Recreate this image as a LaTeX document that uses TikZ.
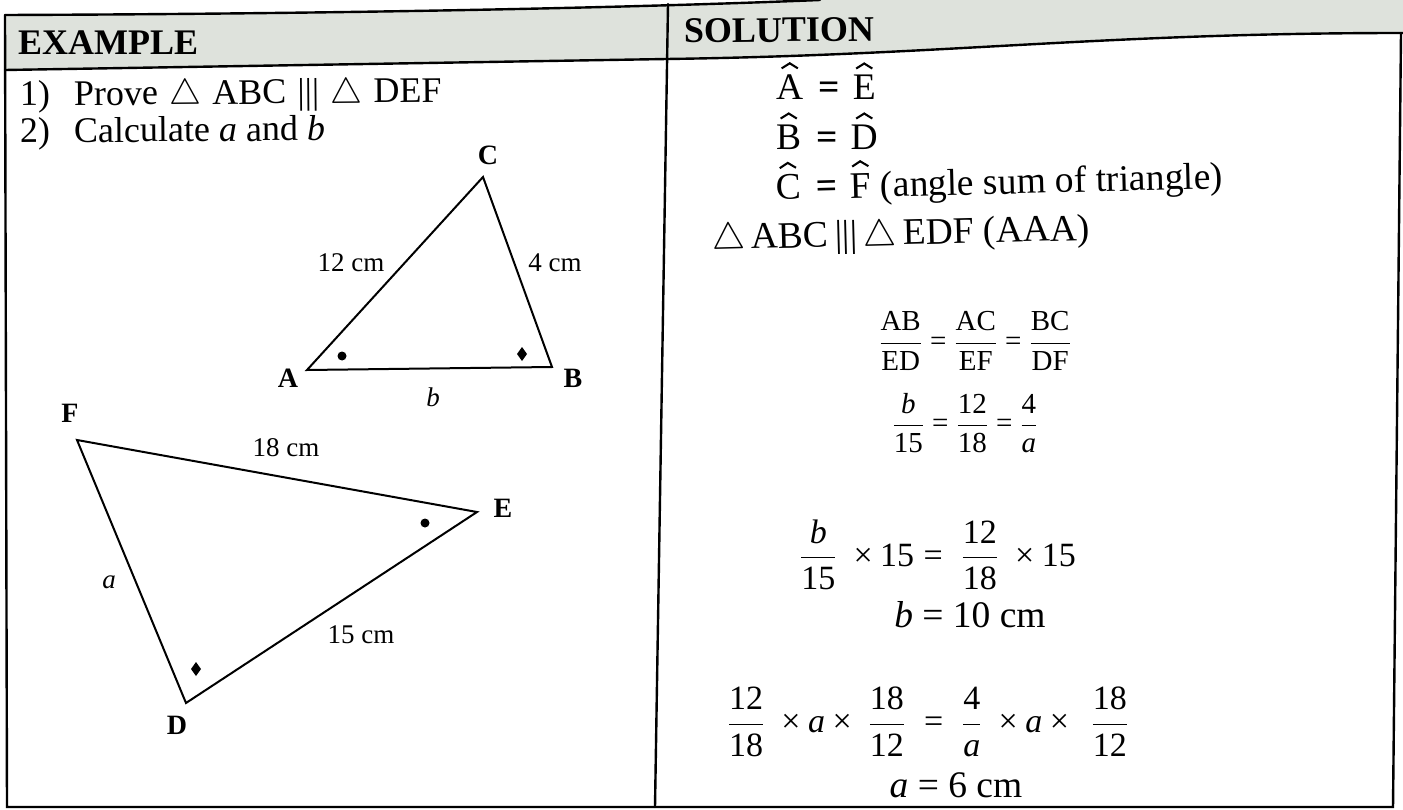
\RequirePackage{fix-cm}
\documentclass[tikz,border=0pt]{standalone}
\usepackage{amsmath}
\usepackage{graphicx}
\usepackage{fontspec}
\setmainfont{Liberation Serif}
\definecolor{hdrgray}{RGB}{222,226,220}
\newcommand{\tx}[1]{\text{#1}}
\newcommand{\ti}[1]{\text{\itshape #1}}
\newcommand{\eq}{\mathrel{\text{=}}}
\newcommand{\tm}{\mathbin{\text{×}}}
\newcommand{\hatmark}{\rotatebox{32}{\rule{0.27em}{0.055em}}\kern-0.055em\raisebox{0.143em}{\rotatebox{-32}{\rule{0.27em}{0.055em}}}}
\newcommand{\hatx}[1]{\vbox{\offinterlineskip\halign{\hfil##\hfil\cr\hatmark\cr\noalign{\kern0.16em}#1\cr}}}
\newcommand{\beq}{\hspace{0.4em}\textbf{=}\hspace{0.35em}}
\newcommand{\gp}{\hspace{0.31em}}
\tikzset{
  rule/.style={line width=2.4pt, line cap=round},
  tri/.style={line width=2pt, line join=miter},
  hdr/.style={font=\fontsize{36}{40}\selectfont\bfseries, inner sep=0pt, anchor=base west},
  body/.style={font=\fontsize{36}{40}\selectfont, inner sep=0pt, anchor=base west},
  sol/.style={font=\fontsize{37.5}{40}\selectfont, inner sep=0pt},
  fr/.style={font=\fontsize{29}{31}\selectfont, inner sep=0pt},
  fr2/.style={font=\fontsize{34}{36}\selectfont, inner sep=0pt},
  vlab/.style={font=\fontsize{28}{30}\selectfont\bfseries, inner sep=0pt},
  slab/.style={font=\fontsize{27}{30}\selectfont, inner sep=0pt},
}
\begin{document}
\begin{tikzpicture}[x=1pt,y=-1pt]
\useasboundingbox (0,0) rectangle (1403,810);
% header background
\fill[hdrgray] (5,15) .. controls (300,14) and (600,9) .. (820,0) -- (1403,0) -- (1403,33)
  .. controls (1100,33) and (950,55) .. (667,59) -- (5,70) -- cycle;
% table corners
\coordinate (tl) at (5,15);
\coordinate (tt) at (820,0);
\coordinate (hl) at (5,70);
\coordinate (hm) at (667,59);
\coordinate (hr) at (1403,33);
\coordinate (rt) at (1401,33);
\coordinate (bl) at (7,807);
\coordinate (br) at (1393,807);
\coordinate (ct) at (668,4);
\coordinate (cb) at (655,807);
\draw[rule] (tl) .. controls (300,14) and (600,9) .. (tt);
\draw[rule] (hl) -- (hm) .. controls (950,55) and (1100,33) .. (hr);
\draw[rule] (tl) -- (bl) -- (br) -- (rt);
\draw[rule] (ct) -- (cb);
% headers
\node[hdr] (exh) at (18,55) {EXAMPLE};
\node[hdr, rotate=0.6] (solh) at (684,43) {SOLUTION};
% left text
\node[body, rotate=0.5] (q1) at (20,106) {\makebox[54pt][l]{1)}Prove\gp$\triangle$\gp ABC\gp|||\gp$\triangle$\gp DEF};
\node[body, rotate=0.5] (q2) at (20,143) {\makebox[54pt][l]{2)}Calculate \textit{a} and \textit{b}};
% triangle ABC
\coordinate (A) at (307,370);
\coordinate (B) at (552,367);
\coordinate (C) at (483,177);
\draw[tri] (A) -- (B) -- (C) -- cycle;
\node[vlab] (lA) at (288,378) {A};
\node[vlab] (lB) at (573,378) {B};
\node[vlab] (lC) at (488,155) {C};
\node[slab] (sAC) at (351,263) {12 cm};
\node[slab] (sBC) at (555,263) {4 cm};
\node[slab] (sAB) at (433,397) {\textit{b}};
\fill (342,356) circle (4.5pt);
\fill (522,347) -- (527,354) -- (522,361) -- (517,354) -- cycle;
% triangle DEF
\coordinate (F) at (77,440);
\coordinate (E) at (477,512);
\coordinate (D) at (186,703);
\draw[tri] (F) -- (E) -- (D) -- cycle;
\node[vlab] (lF) at (70,413) {F};
\node[vlab] (lE) at (503,508) {E};
\node[vlab] (lD) at (177,725) {D};
\node[slab] (sFE) at (286,448) {18 cm};
\node[slab] (sFD) at (109,582) {\textit{a}};
\node[slab] (sDE) at (361,635) {15 cm};
\fill (425,523) circle (4.5pt);
\fill (196,662) -- (201,669) -- (196,676) -- (191,669) -- cycle;
% solution
\node[sol, anchor=base west] (s1) at (776,100) {\hatx{A}\beq\hatx{E}};
\node[sol, anchor=base west] (s2) at (776,150) {\hatx{B}\beq\hatx{D}};
\node[sol, anchor=base west, rotate=1.5] (s3) at (776,200) {\hatx{C}\beq\hatx{F} (angle sum of triangle)};
\node[sol, anchor=base west, rotate=1.5] (s4) at (712,250) {$\triangle$\,ABC\,|||\,$\triangle$\,EDF (AAA)};
\node[fr] (f1) at (975,341) {$\dfrac{\tx{AB}}{\tx{ED}}\eq\dfrac{\tx{AC}}{\tx{EF}}\eq\dfrac{\tx{BC}}{\tx{DF}}$};
\node[fr] (f2) at (965,423) {$\dfrac{\ti{b}}{\tx{15}}\eq\dfrac{\tx{12}}{\tx{18}}\eq\dfrac{\tx{4}}{\ti{a}}$};
\node[fr2] (f3) at (938,555) {$\dfrac{\ti{b}}{\tx{15}}\;\tm\tx{15}\eq\;\dfrac{\tx{12}}{\tx{18}}\;\tm\tx{15}$};
\node[sol, anchor=base] (f4) at (970,627) {\textit{b} = 10 cm};
\node[fr2] (f5) at (928,722) {$\dfrac{\tx{12}}{\tx{18}}\;\tm\ti{a}\tm\;\dfrac{\tx{18}}{\tx{12}}\;\eq\;\dfrac{\tx{4}}{\ti{a}}\;\tm\ti{a}\tm\;\,\dfrac{\tx{18}}{\tx{12}}$};
\node[sol, anchor=base] (f6) at (956,797) {\textit{a} = 6 cm};
\end{tikzpicture}
\end{document}
